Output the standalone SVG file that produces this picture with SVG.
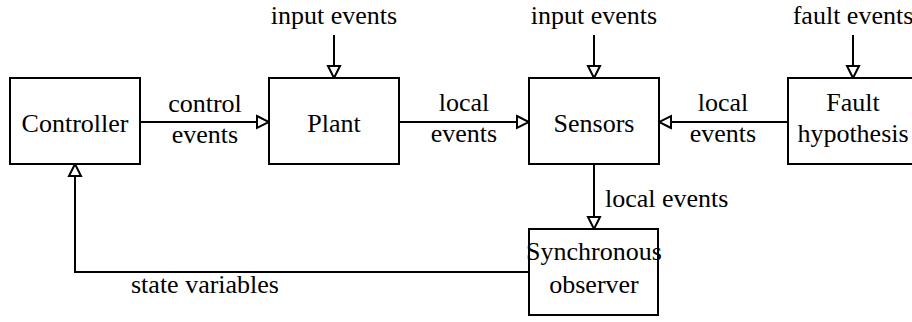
<svg xmlns="http://www.w3.org/2000/svg" width="912" height="322" viewBox="0 0 912 322" font-family="Liberation Serif, Tinos, Times New Roman, DejaVu Serif, Noto Serif, FreeSerif, serif">
<style>
.box{fill:#fff;stroke:#000;stroke-width:2}
.t{font-size:26px;fill:#000;text-anchor:middle}
.s{text-anchor:start}
.c{fill:none;stroke:#000;stroke-width:2}
</style>
<defs>
<marker id="ah" viewBox="0 0 16 16" refX="14" refY="8" markerWidth="16" markerHeight="16" markerUnits="userSpaceOnUse" orient="auto">
<path d="M2,2 L14,8 L2,14 Z" fill="#fff" stroke="#000" stroke-width="2"/>
</marker>
</defs>
<g id="connectors">
<line class="c" x1="334" y1="35" x2="334" y2="78" marker-end="url(#ah)"/>
<line class="c" x1="594" y1="35" x2="594" y2="78" marker-end="url(#ah)"/>
<line class="c" x1="853" y1="35" x2="853" y2="78" marker-end="url(#ah)"/>
<line class="c" x1="140" y1="122" x2="269" y2="122" marker-end="url(#ah)"/>
<line class="c" x1="399" y1="122" x2="529" y2="122" marker-end="url(#ah)"/>
<line class="c" x1="788" y1="122" x2="659" y2="122" marker-end="url(#ah)"/>
<line class="c" x1="594" y1="164" x2="594" y2="229" marker-end="url(#ah)"/>
<polyline class="c" points="529,272 75,272 75,164" marker-end="url(#ah)"/>
<text class="t" x="334" y="24">input events</text>
<text class="t" x="594" y="24">input events</text>
<text class="t" x="853" y="24">fault events</text>
<text class="t" x="205" y="112">control</text>
<text class="t" x="205" y="143">events</text>
<text class="t" x="464" y="111">local</text>
<text class="t" x="464" y="142">events</text>
<text class="t" x="723" y="111">local</text>
<text class="t" x="723" y="142">events</text>
<text class="t s" x="605" y="207">local events</text>
<text class="t" x="205" y="293">state variables</text>
</g>
<g id="controller">
<rect class="box" x="10" y="78" width="130" height="86"/>
<text class="t" x="75" y="132">Controller</text>
</g>
<g id="plant">
<rect class="box" x="269" y="78" width="130" height="86"/>
<text class="t" x="334" y="132">Plant</text>
</g>
<g id="sensors">
<rect class="box" x="529" y="78" width="130" height="86"/>
<text class="t" x="594" y="132">Sensors</text>
</g>
<g id="fault">
<rect class="box" x="788" y="78" width="130" height="86"/>
<text class="t" x="853" y="111">Fault</text>
<text class="t" x="853" y="142">hypothesis</text>
</g>
<g id="observer">
<rect class="box" x="529" y="229" width="129" height="86"/>
<text class="t" x="594" y="260">Synchronous</text>
<text class="t" x="594" y="293">observer</text>
</g>
</svg>
